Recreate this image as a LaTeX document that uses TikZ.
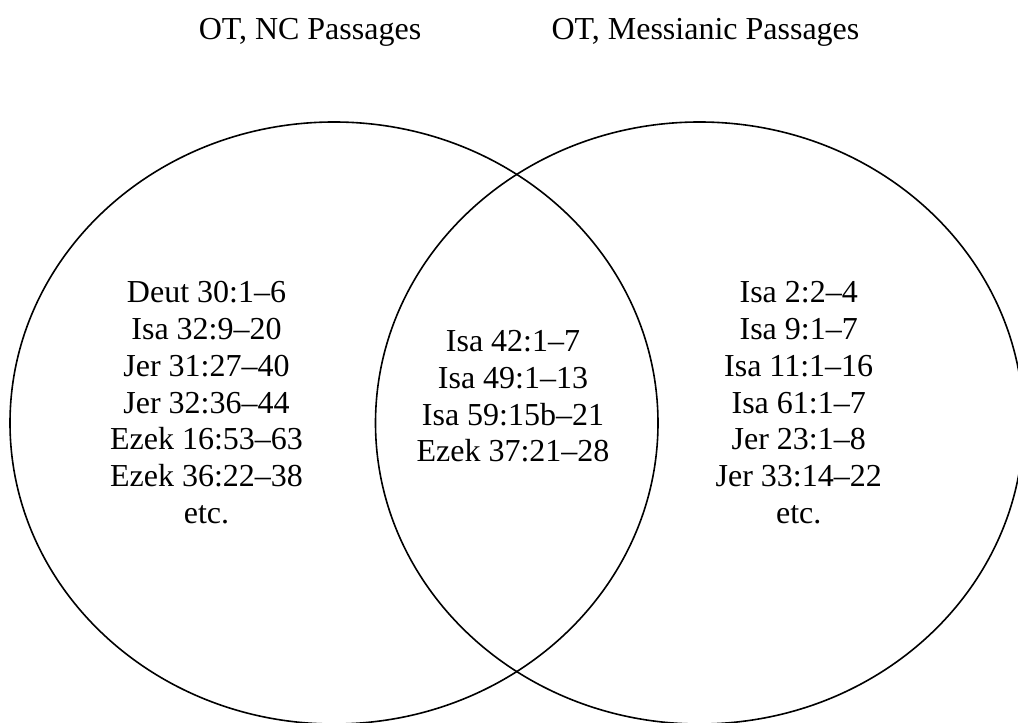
\documentclass[tikz,border=0pt]{standalone}
\usepackage{fontspec}
\setmainfont{Liberation Serif}
\begin{document}
\begin{tikzpicture}[x=0.5pt, y=0.5pt, font=\fontsize{16}{18.4}\selectfont, line join=round, line cap=round]
	\def\rx{324} \def\ry{301} % radii
	\def\xl{334} \def\xr{699.5} \def\yc{300}
	\useasboundingbox (0,0) rectangle (1018,723);
	\node[anchor=base] (titleNC) at (310,683) {OT, NC Passages};
	\node[anchor=base] (titleMes) at (705.5,683) {OT, Messianic Passages};
	\begin{scope}
		\clip (0,0) rectangle (1018,723);
		\draw[line width=0.8pt] (\xl,\yc) ellipse [x radius=\rx, y radius=\ry];
		\draw[line width=0.8pt] (\xr,\yc) ellipse [x radius=\rx, y radius=\ry];
	\end{scope}
	% base = baseline of the last line
	\node[align=center, anchor=base] (passNC) at (206.5,199.4) {Deut 30:1--6\\Isa 32:9--20\\Jer 31:27--40\\Jer 32:36--44\\Ezek 16:53--63\\Ezek 36:22--38\\etc.};
	\node[align=center, anchor=base] (passBoth) at (513,261) {Isa 42:1--7\\Isa 49:1--13\\Isa 59:15b--21\\Ezek 37:21--28};
	\node[align=center, anchor=base] (passMes) at (798.7,199.4) {Isa 2:2--4\\Isa 9:1--7\\Isa 11:1--16\\Isa 61:1--7\\Jer 23:1--8\\Jer 33:14--22\\etc.};
\end{tikzpicture}
\end{document}
